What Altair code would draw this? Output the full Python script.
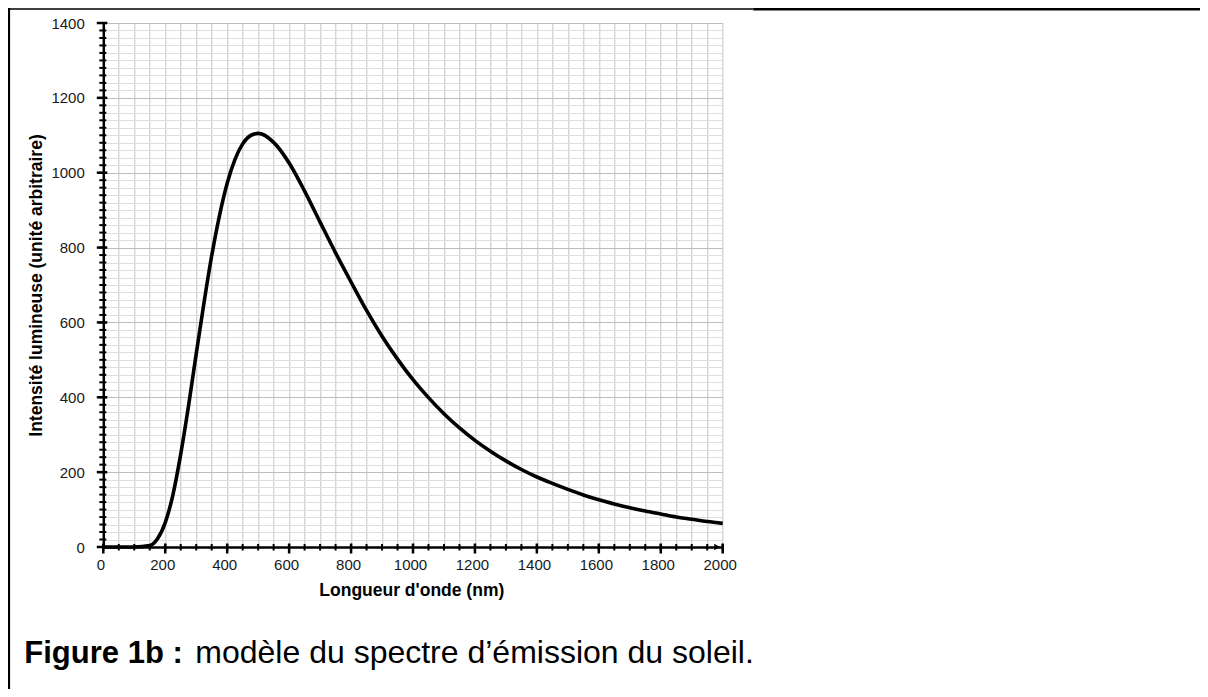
import altair as alt
import pandas as pd

# ---- data ----
wavelength_nm = [0, 50, 100, 150, 175, 200, 225, 250, 275, 300, 325, 350, 375, 400,
                 425, 450, 475, 500, 550, 600, 650, 700, 750, 800, 850, 900, 950,
                 1000, 1050, 1100, 1150, 1200, 1250, 1300, 1350, 1400, 1450, 1500,
                 1550, 1600, 1650, 1700, 1750, 1800, 1850, 1900, 1950, 2000]
intensity = [0, 0, 0, 4, 22, 65, 140, 248, 376, 516, 652, 778, 885, 972,
             1035, 1077, 1099, 1105, 1081, 1026, 951, 868, 786, 708, 632, 563, 502,
             447, 399, 356, 318, 285, 256, 230, 207, 187, 170, 154,
             139, 126, 115, 105, 96, 88, 80, 74, 68, 63]

x_ticks = list(range(0, 2001, 50))
x_major = list(range(0, 2001, 200))
y_ticks = list(range(0, 1401, 20))
y_major = list(range(0, 1401, 200))

x_title = "Longueur d'onde (nm)"
y_title = "Intensité lumineuse (unité arbitraire)"
caption_bold = "Figure 1b :"
caption_text = "modèle du spectre d’émission du soleil."

FONT = "Liberation Sans, Arial, Helvetica, sans-serif"
W, H = 619.4, 524

curve = pd.DataFrame({"wl": wavelength_nm, "inten": intensity})
xt_minor = pd.DataFrame({"wl": x_ticks})
xt_major = pd.DataFrame({"wl": x_major})
yt_minor = pd.DataFrame({"inten": y_ticks})
yt_major = pd.DataFrame({"inten": y_major})
one = pd.DataFrame({"k": [0]})
arrow = pd.DataFrame({"wl": [1982], "inten": [0]})

x_enc = alt.X(
    "wl:Q",
    scale=alt.Scale(domain=[0, 2000], nice=False, zero=False),
    axis=alt.Axis(
        values=x_ticks, format="d",
        labelExpr="datum.value % 200 === 0 ? datum.label : ''",
        grid=True, gridColor="#c2c2c2", gridWidth=1,
        ticks=False, tickSize=0,
        domainColor="black", domainWidth=2.5,
        labelFont=FONT, labelFontSize=15, labelColor="#1a1a1a",
        labelPadding=10, labelFlush=False, labelOverlap=False, labelOffset=-3,
        title=x_title, titleFont=FONT, titleFontSize=17.5, titleFontWeight="bold",
        titleColor="black", titleX=308, titleY=48, titleAlign="center",
        titleBaseline="alphabetic",
    ),
)
y_enc = alt.Y(
    "inten:Q",
    scale=alt.Scale(domain=[0, 1400], nice=False),
    axis=alt.Axis(
        values=y_ticks, format="d",
        labelExpr="datum.value % 200 === 0 ? datum.label : ''",
        grid=True,
        gridColor={"condition": {"test": "datum.value % 200 === 0", "value": "#bdbdbd"},
                   "value": "#dedede"},
        gridWidth=1,
        ticks=False, tickSize=0,
        domainColor="black", domainWidth=2.5,
        labelFont=FONT, labelFontSize=15, labelColor="#1a1a1a",
        labelPadding=19, labelFlush=False, labelOverlap=False,
        title=y_title, titleFont=FONT, titleFontSize=17.5, titleFontWeight="bold",
        titleColor="black", titleX=-67, titleY=262, titleAngle=270,
        titleAlign="center", titleBaseline="middle",
    ),
)

line = alt.Chart(curve).mark_line(color="black", strokeWidth=3.6,
                                  interpolate="monotone").encode(x=x_enc, y=y_enc)

xtick_minor = alt.Chart(xt_minor).mark_rule(color="black", strokeWidth=2).encode(
    x=x_enc, y=alt.value(H - 3), y2=alt.value(H + 3.5))
xtick_major = alt.Chart(xt_major).mark_rule(color="black", strokeWidth=2.5).encode(
    x=x_enc, y=alt.value(H - 3.5), y2=alt.value(H + 6.5))
ytick_minor = alt.Chart(yt_minor).mark_rule(color="black", strokeWidth=2).encode(
    y=y_enc, x=alt.value(-4), x2=alt.value(3))
ytick_major = alt.Chart(yt_major).mark_rule(color="black", strokeWidth=2.5).encode(
    y=y_enc, x=alt.value(-6.5), x2=alt.value(4))
arrow_head = alt.Chart(arrow).mark_point(shape="triangle-right", filled=True,
                                         color="black", size=45, opacity=1).encode(
    x=x_enc, y=y_enc)

# figure frame
frame_left = alt.Chart(one).mark_rule(color="black", strokeWidth=2.2).encode(
    x=alt.value(-94.3), y=alt.value(-15), y2=alt.value(H + 142))
frame_top_thin = alt.Chart(one).mark_rule(color="black", strokeWidth=1.5).encode(
    x=alt.value(-95.3), x2=alt.value(650), y=alt.value(-14))
frame_top_thick = alt.Chart(one).mark_rule(color="black", strokeWidth=3).encode(
    x=alt.value(650), x2=alt.value(W + 478), y=alt.value(-14))

cap1 = alt.Chart(one).mark_text(align="left", baseline="alphabetic", font=FONT,
                                fontSize=31, fontWeight="bold", color="black").encode(
    x=alt.value(-79), y=alt.value(640), text=alt.value(caption_bold))
cap2 = alt.Chart(one).mark_text(align="left", baseline="alphabetic", font=FONT,
                                fontSize=32, fontWeight="normal", color="black").encode(
    x=alt.value(92), y=alt.value(640), text=alt.value(caption_text))

chart = alt.layer(
    line, xtick_minor, xtick_major, ytick_minor, ytick_major, arrow_head,
    frame_left, frame_top_thin, frame_top_thick, cap1, cap2,
).properties(
    width=W, height=H,
    padding={"left": 95.3, "top": 15, "right": 477.3, "bottom": 142},
    autosize=alt.AutoSizeParams(type="none"),
    background="white",
).configure_view(strokeWidth=0)

chart.save("out.html", embed_options={"renderer": "svg", "actions": False})
